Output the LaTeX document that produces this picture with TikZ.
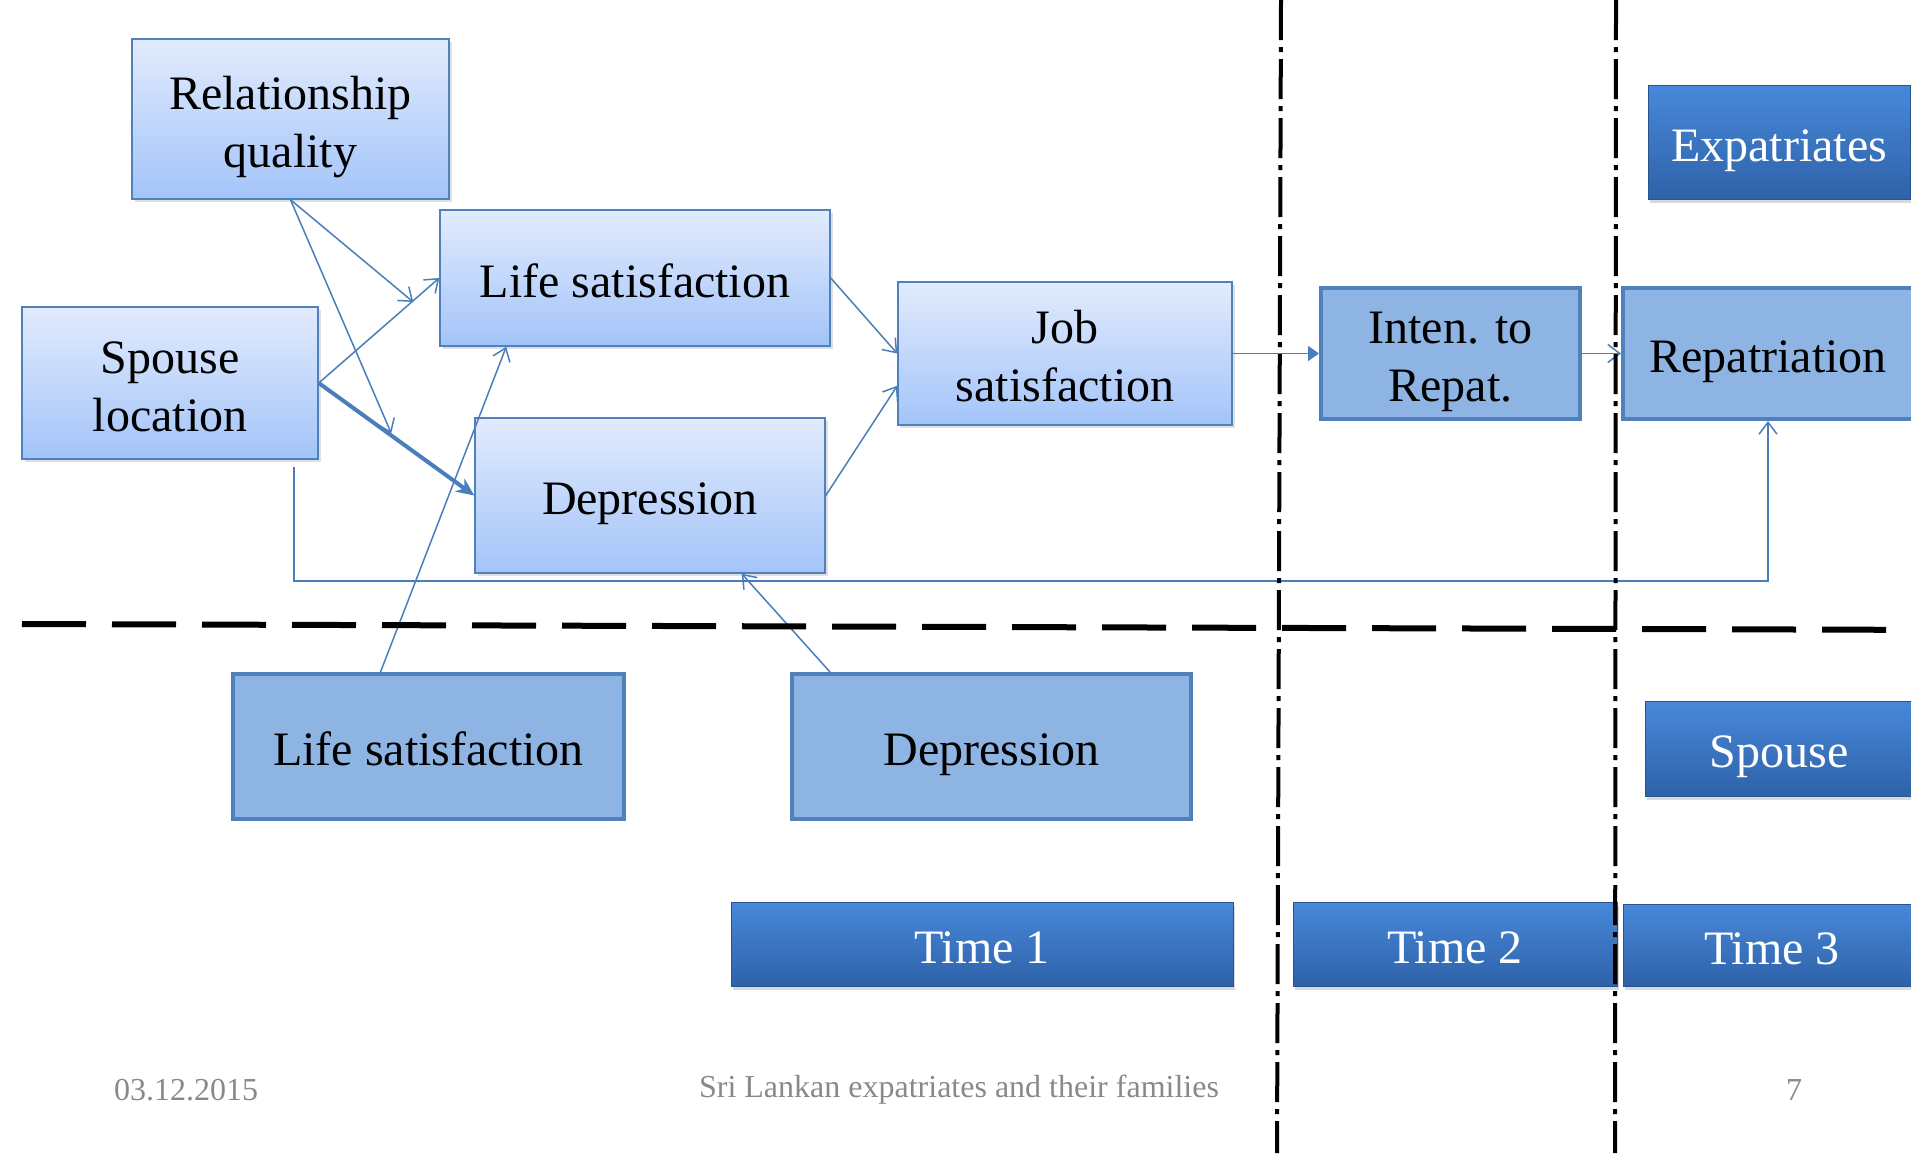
\documentclass[tikz,border=0pt]{standalone}
\usepackage{fontspec}
\setmainfont{Liberation Serif}
\usetikzlibrary{arrows.meta,shadows}
\definecolor{edgeblue}{RGB}{79,129,189}
\definecolor{linkblue}{RGB}{74,126,187}
\definecolor{paletop}{RGB}{226,235,253}
\definecolor{palebot}{RGB}{163,196,249}
\definecolor{midblue}{RGB}{142,180,227}
\definecolor{darktop}{RGB}{72,136,218}
\definecolor{darkbot}{RGB}{46,98,168}
\definecolor{footgray}{RGB}{137,137,137}
\newcommand\boxstrut{\rule[-5.2pt]{0pt}{29.6pt}}
\newcommand\boxtail{\rule[-5.2pt]{0pt}{5.2pt}}
\begin{document}
\begin{tikzpicture}[x=0.5pt,y=-0.5pt,
    boxtext/.style={align=center,inner sep=0pt,font=\fontsize{24}{29}\selectfont},
    pale/.style={boxtext,draw=edgeblue,line width=0.75pt,top color=paletop,bottom color=palebot,
        drop shadow={shadow xshift=1.5pt,shadow yshift=-1.5pt,opacity=0.25}},
    mid/.style={boxtext,draw=edgeblue,line width=2pt,fill=midblue},
    dark/.style={boxtext,draw=darkbot!85!black,line width=0.5pt,top color=darktop,bottom color=darkbot,
        text=white,drop shadow={shadow xshift=1pt,shadow yshift=-2pt,opacity=0.3}},
    link/.style={draw=linkblue,line width=0.75pt,-{Straight Barb[length=6pt,width=9pt]}},
    foot/.style={text=footgray,font=\fontsize{16}{19}\selectfont}]
    \useasboundingbox (0,0) rectangle (1911,1153);

    \node[pale,minimum width=158.5pt,minimum height=80pt] (relq) at (290.5,119) {\boxstrut Relationship\\quality\boxtail};
    \node[pale,minimum width=195pt,minimum height=68pt] (lifeT) at (635,278) {\boxstrut Life satisfaction};
    \node[pale,minimum width=148pt,minimum height=76pt] (spouseloc) at (170,383) {\boxstrut Spouse\\location\boxtail};
    \node[pale,minimum width=175pt,minimum height=77.5pt] (deprT) at (650,495.5) {\boxstrut Depression};
    \node[pale,minimum width=167pt,minimum height=71.5pt] (job) at (1065,353.5) {\boxstrut Job\\satisfaction\boxtail};
    \node[mid,minimum width=129.5pt,minimum height=65.5pt] (inten) at (1450.5,353.5) {\boxstrut Inten. to\\Repat.\boxtail};
    \node[mid,minimum width=145pt,minimum height=65.5pt] (repat) at (1768,353.5) {\boxstrut Repatriation};
    \node[mid,minimum width=195.5pt,minimum height=72.5pt] (lifeB) at (428.5,746.5) {\boxstrut Life satisfaction};
    \node[mid,minimum width=199.5pt,minimum height=72.5pt] (deprB) at (991.5,746.5) {\boxstrut Depression};

    \node[dark,minimum width=131pt,minimum height=57pt] (expat) at (1779,142) {\boxstrut Expatriates};
    \node[dark,minimum width=134pt,minimum height=47.5pt] (spouse) at (1779,748.5) {\boxstrut Spouse};
    \node[dark,minimum width=251pt,minimum height=42pt] (time1) at (982,944) {\boxstrut Time 1};
    \node[dark,minimum width=162pt,minimum height=42pt] (time2) at (1455,944) {\boxstrut Time 2};
    \node[dark,minimum width=149pt,minimum height=41pt] (time3) at (1772,945) {\boxstrut Time 3};

    \node[foot] (date) at (186,1090) {03.12.2015};
    \node[foot] (title) at (959,1090) {Sri Lankan expatriates and their families};
    \node[foot] (page) at (1794,1090) {7};

    \draw[link] (relq.south) -- ([shift={(-26,24)}]lifeT.west);
    \draw[link] (relq.south) -- ([shift={(-83,16)}]deprT.north west);
    \draw[link] (spouseloc.east) -- (lifeT.west);
    \draw[draw=linkblue,line width=2pt,-{Stealth[length=9pt,width=8pt]}] (spouseloc.east) -- (deprT.west);
    \draw[link] (lifeT.east) -- (job.west);
    \draw[link] (deprT.east) -- ([shift={(0,-40)}]job.south west);
    \draw[draw=linkblue,line width=0.75pt,-{Triangle[length=5.5pt,width=7.5pt]}] (job.east) -- (inten.west);
    \draw[link] (inten.east) -- (repat.west);
    \draw[link] ([shift={(-48,0)}]lifeB.north) -- ([shift={(67,0)}]lifeT.south west);
    \draw[link] ([shift={(40,0)}]deprB.north west) -- ([shift={(-84,0)}]deprT.south east);
    \coordinate (sldrop) at (294,467);
    \coordinate (slturn) at (294,581);
    \draw[link] (sldrop) -- (slturn) -| (repat);

    \draw[line width=3pt,dash pattern=on 32pt off 13pt] (22,624) -- (1960,630);
    \draw[line width=2pt,dash pattern=on 20pt off 3.5pt on 2.5pt off 3.5pt] (1281,0) -- (1277,1153);
    \draw[line width=2pt,dash pattern=on 20pt off 3.5pt on 2.5pt off 3.5pt] (1616,0) -- (1615,1153);
\end{tikzpicture}
\end{document}
